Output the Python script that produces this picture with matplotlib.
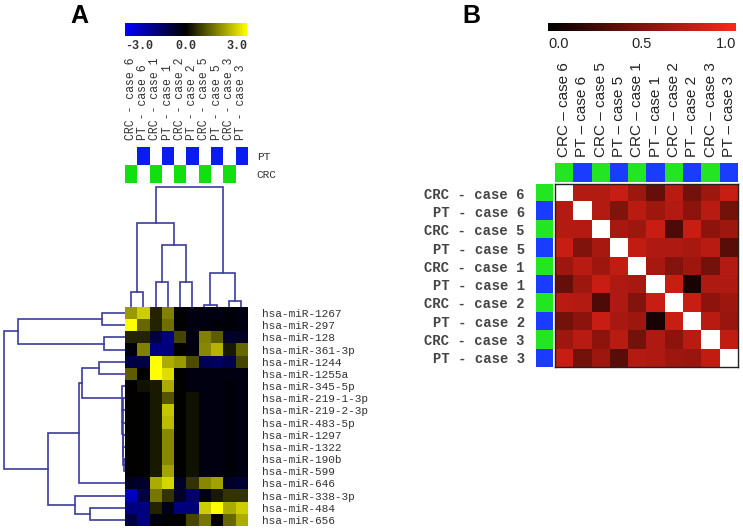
import numpy as np
import matplotlib
matplotlib.use("Agg")
import matplotlib.pyplot as plt
from matplotlib.colors import LinearSegmentedColormap, ListedColormap, Normalize
from matplotlib.cm import ScalarMappable

# ---------------- data ----------------
a_samples = ["CRC - case 6", "PT - case 6", "CRC - case 1", "PT - case 1",
             "CRC - case 2", "PT - case 2", "CRC - case 5", "PT - case 5",
             "CRC - case 3", "PT - case 3"]
a_is_pt = [0, 1, 0, 1, 0, 1, 0, 1, 0, 1]
mirnas = ["hsa-miR-1267", "hsa-miR-297", "hsa-miR-128", "hsa-miR-361-3p",
          "hsa-miR-1244", "hsa-miR-1255a", "hsa-miR-345-5p", "hsa-miR-219-1-3p",
          "hsa-miR-219-2-3p", "hsa-miR-483-5p", "hsa-miR-1297", "hsa-miR-1322",
          "hsa-miR-190b", "hsa-miR-599", "hsa-miR-646", "hsa-miR-338-3p",
          "hsa-miR-484", "hsa-miR-656"]
expr = np.array([
    [1.8, 2.4, 0.4, 1.5, 0.0, -0.2, -0.2, -0.2, -0.1, -0.2],
    [3.0, 1.2, 0.4, 1.3, 0.0, -0.2, -0.2, -0.1, -0.1, -0.2],
    [0.4, 0.4, -0.8, -1.5, 0.8, -0.2, 1.5, 1.1, -0.5, -0.4],
    [-0.1, 1.5, -1.5, -1.5, 0.0, -0.2, 1.6, 2.1, 0.3, 1.2],
    [-0.8, -0.8, 3.0, 2.0, 1.8, 0.9, -1.0, -1.1, -0.9, 0.8],
    [1.1, 0.0, 3.0, 2.6, 0.0, -0.2, -0.2, -0.2, -0.2, -0.2],
    [0.0, 0.2, 0.3, 2.0, 0.0, -0.2, -0.2, -0.2, -0.1, -0.2],
    [0.0, 0.0, 0.3, 1.0, 0.0, 0.2, -0.2, -0.2, -0.1, -0.2],
    [0.0, 0.0, 0.3, 2.3, 0.0, 0.2, -0.2, -0.2, -0.1, -0.2],
    [0.0, 0.0, 0.3, 2.2, 0.0, 0.2, -0.2, -0.2, -0.1, -0.2],
    [0.0, 0.0, 0.3, 1.6, 0.0, 0.2, -0.2, -0.2, -0.1, -0.2],
    [0.0, 0.0, 0.3, 1.6, 0.0, 0.2, -0.2, -0.2, -0.1, -0.2],
    [0.0, 0.0, 0.3, 1.6, 0.0, 0.2, -0.2, -0.2, -0.1, -0.2],
    [0.0, 0.0, 0.3, 1.9, 0.0, 0.2, -0.2, -0.2, -0.1, -0.2],
    [-0.4, -0.5, 2.0, 2.5, -0.5, 0.6, 1.6, 1.9, -0.5, -0.6],
    [-2.2, -0.8, 1.4, 0.6, -0.5, -1.2, -0.2, 0.3, 0.6, 0.6],
    [-1.5, -1.5, 0.4, -0.3, -1.5, -1.4, 2.4, 3.0, 2.0, 2.4],
    [-0.8, -1.5, -0.2, 0.0, 0.0, 0.8, 1.4, 0.0, 1.2, 2.0],
])
# dendrogram merges: (node_a, node_b, height); new nodes numbered after leaves
col_merges = [(0, 1, 15), (2, 3, 25), (4, 5, 25), (6, 7, 2), (8, 9, 6),
              (11, 12, 62), (10, 15, 84), (13, 14, 34), (16, 17, 120)]
row_merges = [(0, 1, 23), (2, 3, 21), (18, 19, 107), (4, 5, 26),
              (12, 13, 1.2), (11, 22, 1.8), (10, 23, 1.5), (9, 24, 2.2),
              (8, 25, 2.6), (7, 26, 2.4), (6, 27, 3.0), (21, 28, 43),
              (29, 14, 46), (16, 17, 35), (15, 31, 50), (30, 32, 77),
              (20, 33, 121)]

b_samples = ["CRC - case 6", "PT - case 6", "CRC - case 5", "PT - case 5",
             "CRC - case 1", "PT - case 1", "CRC - case 2", "PT - case 2",
             "CRC - case 3", "PT - case 3"]
b_col_labels = [s.replace(" - ", " \u2013 ") for s in b_samples]
b_is_pt = [0, 1, 0, 1, 0, 1, 0, 1, 0, 1]
corr = np.array([
    [1.00, 0.70, 0.70, 0.78, 0.62, 0.40, 0.72, 0.45, 0.62, 0.78],
    [0.70, 1.00, 0.70, 0.50, 0.72, 0.62, 0.70, 0.55, 0.72, 0.45],
    [0.70, 0.70, 1.00, 0.65, 0.62, 0.78, 0.30, 0.78, 0.55, 0.62],
    [0.78, 0.50, 0.65, 1.00, 0.75, 0.68, 0.68, 0.65, 0.72, 0.35],
    [0.62, 0.72, 0.62, 0.75, 1.00, 0.65, 0.52, 0.62, 0.45, 0.70],
    [0.40, 0.62, 0.78, 0.68, 0.65, 1.00, 0.78, 0.10, 0.68, 0.68],
    [0.72, 0.70, 0.30, 0.68, 0.52, 0.78, 1.00, 0.78, 0.55, 0.62],
    [0.45, 0.55, 0.78, 0.65, 0.62, 0.10, 0.78, 1.00, 0.72, 0.60],
    [0.62, 0.72, 0.55, 0.72, 0.45, 0.68, 0.55, 0.72, 1.00, 0.75],
    [0.78, 0.45, 0.62, 0.35, 0.70, 0.68, 0.62, 0.60, 0.75, 1.00],
])

# ---------------- styling ----------------
W, H = 743, 530
fig = plt.figure(figsize=(W / 100, H / 100), dpi=100)
MONO = "Liberation Mono"
SANS = "Liberation Sans"
DCOL = "#3c3c9c"
BLUE_A, GREEN_A = "#0a1cf0", "#10e010"
BLUE_B, GREEN_B = "#1a3cff", "#22e622"
cmap_a = LinearSegmentedColormap.from_list("byk", ["#0000ff", "#000000", "#ffff00"])
cmap_b = LinearSegmentedColormap.from_list("kr", ["#000000", "#ff2619"])
cmap_b.set_bad("white")


def px_axes(x0, y0, x1, y1):
    return fig.add_axes([x0 / W, 1 - y1 / H, (x1 - x0) / W, (y1 - y0) / H])


def clean(ax):
    ax.set_xticks([])
    ax.set_yticks([])
    for s in ax.spines.values():
        s.set_visible(False)


def draw_dendro(ax, merges, n, orient):
    pos = {i: float(i) for i in range(n)}
    hgt = {i: 0.0 for i in range(n)}
    for k, (a, b, h) in enumerate(merges):
        xs = [pos[a], pos[a], pos[b], pos[b]]
        ys = [hgt[a], h, h, hgt[b]]
        if orient == "top":
            ax.plot(xs, ys, color=DCOL, lw=1.2, solid_joinstyle="miter")
        else:
            ax.plot(ys, xs, color=DCOL, lw=1.2, solid_joinstyle="miter")
        pos[n + k] = (pos[a] + pos[b]) / 2
        hgt[n + k] = h


# ================= Panel A =================
hx0, hx1, hy0, hy1 = 125, 247, 307, 526
ax_h = px_axes(hx0, hy0, hx1, hy1)
ax_h.imshow(expr, cmap=cmap_a, vmin=-3, vmax=3, aspect="auto",
            interpolation="nearest")
ax_h.set_xticks([])
ax_h.yaxis.tick_right()
ax_h.set_yticks(range(len(mirnas)))
ax_h.set_yticklabels(mirnas, family=MONO, fontsize=8, color="#333333")
ax_h.tick_params(axis="y", length=0, pad=10.5)
for s in ax_h.spines.values():
    s.set_visible(False)

# column dendrogram
ax_cd = px_axes(hx0, 184, hx1, hy0)
draw_dendro(ax_cd, col_merges, 10, "top")
ax_cd.set_xlim(-0.5, 9.5)
ax_cd.set_ylim(0, 123)
clean(ax_cd)

# row dendrogram
ax_rd = px_axes(0, hy0, hx0, hy1)
draw_dendro(ax_rd, row_merges, 18, "left")
ax_rd.set_xlim(125, 0)
ax_rd.set_ylim(17.5, -0.5)
clean(ax_rd)

# annotation rows
ax_pt = px_axes(hx0, 147, hx1, 165)
ax_pt.imshow([a_is_pt], cmap=ListedColormap(["white", BLUE_A]), vmin=0, vmax=1,
             aspect="auto", interpolation="nearest")
ax_crc = px_axes(hx0, 165, hx1, 183)
ax_crc.imshow([[1 - v for v in a_is_pt]], cmap=ListedColormap(["white", GREEN_A]),
              vmin=0, vmax=1, aspect="auto", interpolation="nearest")
for ax, lab in [(ax_pt, "PT"), (ax_crc, "CRC")]:
    for s in ax.spines.values():
        s.set_visible(False)
    ax.set_xticks([])
    ax.yaxis.tick_right()
    ax.set_yticks([0])
    ax.set_yticklabels([lab], family=MONO, fontsize=8, color="#333333")
    ax.tick_params(axis="y", length=0, pad=7)
ax_pt.xaxis.tick_top()
ax_pt.set_xticks(range(10))
ax_pt.set_xticklabels(a_samples, rotation=90, family=MONO, fontsize=8.3,
                      color="#333333")
ax_pt.tick_params(axis="x", length=0, pad=5)

# colorbar A
cax_a = px_axes(125, 23, 247, 36)
cb_a = fig.colorbar(ScalarMappable(norm=Normalize(-3, 3), cmap=cmap_a),
                    cax=cax_a, orientation="horizontal", ticks=[-3, 0, 3])
cb_a.outline.set_visible(False)
cax_a.set_xticklabels(["-3.0", "0.0", "3.0"], family=MONO, fontsize=8.5,
                      color="#333333", weight="bold")
cax_a.tick_params(length=0, pad=3)
labs = cax_a.get_xticklabels()
labs[0].set_ha("left")
labs[-1].set_ha("right")

fig.text(79 / W, 1 - 16 / H, "A", fontsize=18, weight="bold", family=SANS,
         ha="center", va="center")

# ================= Panel B =================
bx0, bx1, by0, by1 = 555, 738, 184, 367
ax_b = px_axes(bx0, by0, bx1, by1)
cm = corr.copy()
cm[np.eye(len(b_samples), dtype=bool)] = np.nan
ax_b.imshow(np.ma.masked_invalid(cm), cmap=cmap_b, vmin=0, vmax=1,
            aspect="auto", interpolation="nearest")
ax_b.set_xticks([])
ax_b.set_yticks([])
for s in ax_b.spines.values():
    s.set_linewidth(1.0)
    s.set_color("#222222")

ax_bt = px_axes(bx0, 163, bx1, 182)
ax_bt.imshow([b_is_pt], cmap=ListedColormap([GREEN_B, BLUE_B]), vmin=0, vmax=1,
             aspect="auto", interpolation="nearest")
for s in ax_bt.spines.values():
    s.set_visible(False)
ax_bt.set_yticks([])
ax_bt.xaxis.tick_top()
ax_bt.set_xticks(range(10))
ax_bt.set_xticklabels(b_col_labels, rotation=90, family=SANS, fontsize=11,
                      color="#222222")
ax_bt.tick_params(axis="x", length=0, pad=4)

ax_bl = px_axes(536, by0, 553, by1)
ax_bl.imshow([[v] for v in b_is_pt], cmap=ListedColormap([GREEN_B, BLUE_B]),
             vmin=0, vmax=1, aspect="auto", interpolation="nearest")
for s in ax_bl.spines.values():
    s.set_visible(False)
ax_bl.set_xticks([])
ax_bl.set_yticks(range(10))
ax_bl.set_yticklabels(b_samples, family=MONO, fontsize=10, weight="bold",
                      color="#444444")
ax_bl.tick_params(axis="y", length=0, pad=8)

cax_b = px_axes(548, 23, 736, 31)
cb_b = fig.colorbar(ScalarMappable(norm=Normalize(0, 1), cmap=cmap_b),
                    cax=cax_b, orientation="horizontal", ticks=[0, 0.5, 1])
cb_b.outline.set_visible(False)
cax_b.set_xticklabels(["0.0", "0.5", "1.0"], family=SANS, fontsize=10.5,
                      color="#222222")
cax_b.tick_params(length=0, pad=4)
labs = cax_b.get_xticklabels()
labs[0].set_ha("left")
labs[-1].set_ha("right")

fig.text(471 / W, 1 - 16 / H, "B", fontsize=18, weight="bold", family=SANS,
         ha="center", va="center")

fig.savefig("out.png", dpi=100)
